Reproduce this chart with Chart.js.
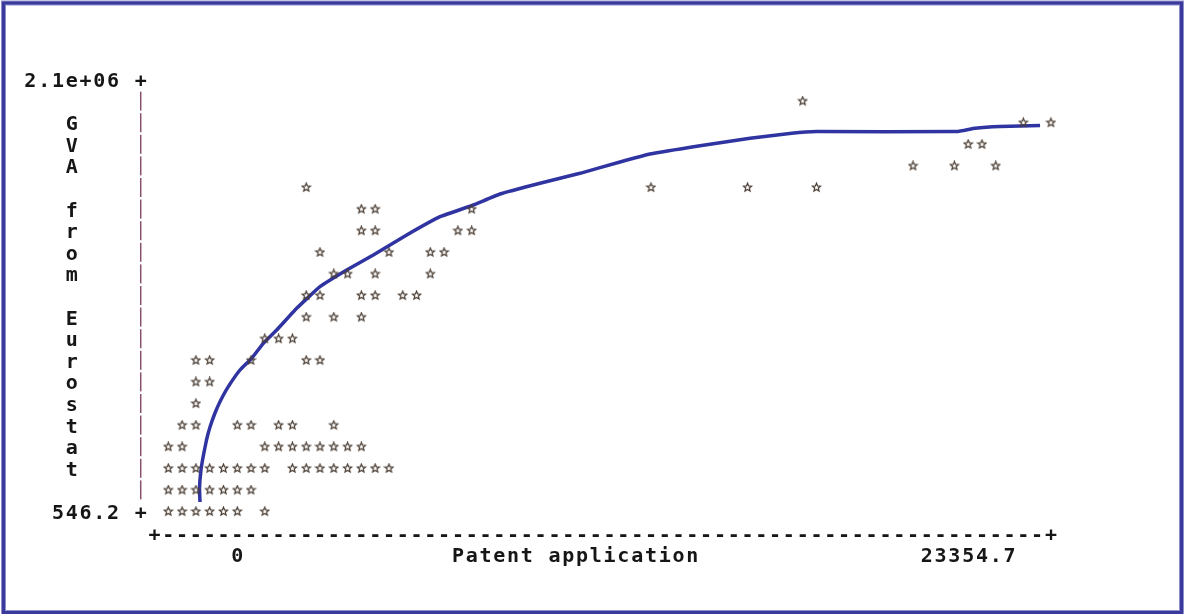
<!DOCTYPE html>
<html>
<head>
<meta charset="utf-8">
<script src="https://cdn.jsdelivr.net/npm/chart.js@4/dist/chart.umd.min.js"></script>
<style>
  html, body { margin: 0; padding: 0; background: #fff; }
  canvas { display: block; }
</style>
</head>
<body>
<canvas id="plot" width="1184" height="614"></canvas>
<script>
// GVA value of each text row (top to bottom) and the patent values plotted on it
const gvaLevels = [1995000, 1890000, 1785000, 1680000, 1575000, 1470000, 1365000,
  1260000, 1155000, 1050000, 945000, 840000, 735000, 630000, 525000, 420000,
  315000, 210000, 105000, 546]

const patentsAtLevel = [
  [16786],
  [22625, 23355],
  [21165, 21530],
  [19706, 20800, 21895],
  [3649, 12772, 15327, 17151],
  [5109, 5474, 8028],
  [5109, 5474, 7663, 8028],
  [4014, 5839, 6933, 7298],
  [4379, 4744, 5474, 6933],
  [3649, 4014, 5109, 5474, 6204, 6569],
  [3649, 4379, 5109],
  [2554, 2919, 3284],
  [730, 1095, 2190, 3649, 4014],
  [730, 1095],
  [730],
  [365, 730, 1825, 2190, 2919, 3284, 4379],
  [0, 365, 2554, 2919, 3284, 3649, 4014, 4379, 4744, 5109],
  [0, 365, 730, 1095, 1460, 1825, 2190, 2554, 3284, 3649, 4014, 4379, 4744, 5109, 5474, 5839],
  [0, 365, 730, 1095, 1460, 1825, 2190],
  [0, 365, 730, 1095, 1460, 1825, 2554],
]

// fitted curve drawn over the text plot
const curvePatents = [839, 826, 865, 926, 1011, 1104, 1236, 1368, 1588, 1897, 2207, 2514,
  2869, 3398, 4014, 4721, 5425, 6309, 7190, 8071, 8778, 9836, 10895, 11953, 12747,
  14071, 15394, 16497, 17159, 20864, 21348, 22009, 23068]
const curveGva = [46700, 114800, 202200, 270300, 348000, 411200, 479200, 534200, 607100,
  688200, 745100, 818000, 882600, 988100, 1093000, 1174200, 1247100, 1344300, 1433200,
  1490100, 1543500, 1595500, 1644100, 1699100, 1737900, 1778300, 1814200, 1838900,
  1846700, 1846700, 1862800, 1871600, 1876400]

const yTickLabels = ['2.1e+06', '546.2']
const xTickLabels = ['0', '23354.7']
const yTitle = 'GVA from Eurostat'
const xTitle = 'Patent application'

const X_MAX = 23354.7
const Y_MIN = 546.2
const Y_MAX = 2100000
const COL = X_MAX / 64              // one text column in patent units
const ROW = (Y_MAX - Y_MIN) / 20    // one text row in GVA units

const scatterPts = []
gvaLevels.forEach((g, i) => patentsAtLevel[i].forEach(p => scatterPts.push({ x: p, y: g })))
const curvePts = curvePatents.map((p, i) => ({ x: p, y: curveGva[i] }))

function makeStar() {
  const c = document.createElement('canvas')
  c.width = 11; c.height = 11
  const g = c.getContext('2d')
  g.beginPath()
  for (let i = 0; i < 10; i++) {
    const a = -Math.PI / 2 + i * Math.PI / 5
    const r = i % 2 ? 1.9 : 4.3
    g.lineTo(5.5 + r * Math.cos(a), 5.5 + r * Math.sin(a))
  }
  g.closePath()
  g.strokeStyle = '#4a3d33'
  g.lineWidth = 1.25
  g.stroke()
  return c
}

const textPlot = {
  id: 'textPlot',
  afterDraw(chart) {
    const { ctx, scales: { x, y } } = chart
    const colX = c => x.getPixelForValue(c * COL)
    const rowY = r => y.getPixelForValue(Y_MAX - r * ROW)
    const put = (str, col, row) => {
      ;[...str].forEach((ch, i) => {
        if (ch !== ' ') ctx.fillText(ch, colX(col + i), rowY(row) + 7.5)
      })
    }
    ctx.save()
    ctx.font = 'bold 20px "DejaVu Sans Mono"'
    ctx.textAlign = 'center'
    ctx.textBaseline = 'alphabetic'
    ctx.fillStyle = '#161616'

    // y axis
    put(yTickLabels[0], -10, 0)
    put(yTickLabels[1], -8, 20)
    put('+', -2, 0)
    put('+', -2, 20)
    ctx.strokeStyle = '#87506c'
    ctx.lineWidth = 1.5
    for (let r = 1; r < 20; r++) {
      ctx.beginPath()
      ctx.moveTo(colX(-2), rowY(r) - 9.5)
      ctx.lineTo(colX(-2), rowY(r) + 9.5)
      ctx.stroke()
    }
    ;[...yTitle].forEach((ch, i) => { if (ch !== ' ') put(ch, -7, 2 + i) })

    // x axis
    put('+', -1, 21)
    put('-'.repeat(64), 0, 21)
    put('+', 64, 21)
    put(xTickLabels[0], 5, 22)
    put(xTitle, 21, 22)
    put(xTickLabels[1], 55, 22)

    // frame
    ctx.strokeStyle = '#8f8fcc'
    ctx.lineWidth = 5
    ctx.strokeRect(3.5, 3, 1178, 609.5)
    ctx.strokeStyle = '#3a3a9c'
    ctx.lineWidth = 3
    ctx.strokeRect(3.5, 3, 1178, 609.5)
    ctx.restore()
  },
}

new Chart(document.getElementById('plot'), {
  type: 'scatter',
  data: {
    datasets: [
      {
        label: 'observations',
        data: scatterPts,
        pointStyle: makeStar(),
        pointRadius: 5,
        clip: false,
      },
      {
        type: 'line',
        label: 'fit',
        data: curvePts,
        borderColor: '#3034a0',
        borderWidth: 3.5,
        pointRadius: 0,
        tension: 0.1,
        fill: false,
        clip: false,
      },
    ],
  },
  options: {
    responsive: false,
    animation: false,
    layout: { padding: { left: 154.5, right: 133.1, top: 79.5, bottom: 102.5 } },
    plugins: { legend: { display: false }, tooltip: { enabled: false } },
    scales: {
      x: { type: 'linear', display: false, min: -COL, max: X_MAX },
      y: { type: 'linear', display: false, min: Y_MIN, max: Y_MAX },
    },
  },
  plugins: [textPlot],
})
</script>
</body>
</html>
